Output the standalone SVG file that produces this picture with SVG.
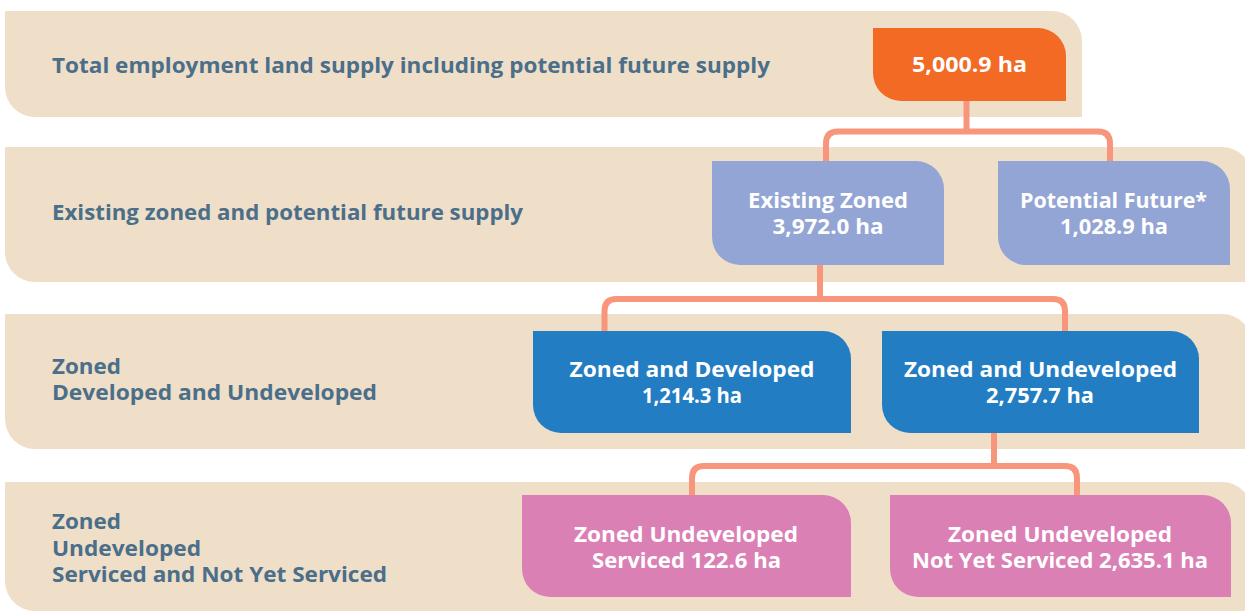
<svg xmlns="http://www.w3.org/2000/svg" width="1245" height="612" viewBox="0 0 1245 612">
<style>
.band{fill:#EFDFC9}
.lbl{font-family:"Open Sans","Liberation Sans",sans-serif;font-weight:700;font-size:21px;fill:#4B6E89}
.nt{font-family:"Open Sans","Liberation Sans",sans-serif;font-weight:700;font-size:21px;fill:#FFFFFF;text-anchor:middle}
.conn{fill:none;stroke:#F7967A;stroke-width:6}
.orange{fill:#F26A24}
.lav{fill:#93A5D5}
.blue{fill:#237DC2}
.pink{fill:#DB80B5}
</style>
<rect width="1245" height="612" fill="#FFFFFF"/>
<g id="bands">
<path class="band" d="M5 11 H1052 A30 30 0 0 1 1082 41 V117 H35 A30 30 0 0 1 5 87 Z"/>
<path class="band" d="M5 147 H1222 A30 30 0 0 1 1252 177 V282 H35 A30 30 0 0 1 5 252 Z"/>
<path class="band" d="M5 314 H1222 A30 30 0 0 1 1252 344 V449 H35 A30 30 0 0 1 5 419 Z"/>
<path class="band" d="M5 482 H1222 A30 30 0 0 1 1252 512 V611 H35 A30 30 0 0 1 5 581 Z"/>
</g>
<g id="row-labels">
<text class="lbl" x="52" y="73" textLength="718" lengthAdjust="spacingAndGlyphs">Total employment land supply including potential future supply</text>
<text class="lbl" x="52" y="220" textLength="471" lengthAdjust="spacingAndGlyphs">Existing zoned and potential future supply</text>
<text class="lbl" x="52" y="374" textLength="69" lengthAdjust="spacingAndGlyphs">Zoned</text>
<text class="lbl" x="52" y="400" textLength="325" lengthAdjust="spacingAndGlyphs">Developed and Undeveloped</text>
<text class="lbl" x="52" y="529" textLength="69" lengthAdjust="spacingAndGlyphs">Zoned</text>
<text class="lbl" x="52" y="556" textLength="149" lengthAdjust="spacingAndGlyphs">Undeveloped</text>
<text class="lbl" x="52" y="582" textLength="335" lengthAdjust="spacingAndGlyphs">Serviced and Not Yet Serviced</text>
</g>
<g id="connectors">
<path class="conn" d="M966.5 101 V131.5"/>
<path class="conn" d="M826 163 V143.5 Q826 131.5 838 131.5 H1098 Q1110 131.5 1110 143.5 V163"/>
<path class="conn" d="M820 265 V299"/>
<path class="conn" d="M604.5 333 V311 Q604.5 299 616.5 299 H1053 Q1065 299 1065 311 V333"/>
<path class="conn" d="M994 433 V466"/>
<path class="conn" d="M692 497 V478 Q692 466 704 466 H1065 Q1077 466 1077 478 V497"/>
</g>
<g id="node-total">
<path class="orange" d="M873 28 H1038 A28 28 0 0 1 1066 56 V101 H901 A28 28 0 0 1 873 73 Z"/>
<text class="nt" x="969.5" y="72" textLength="115" lengthAdjust="spacingAndGlyphs">5,000.9 ha</text>
</g>
<g id="node-existing">
<path class="lav" d="M712 161 H916 A28 28 0 0 1 944 189 V265 H740 A28 28 0 0 1 712 237 Z"/>
<text class="nt" x="828" y="208" textLength="160" lengthAdjust="spacingAndGlyphs">Existing Zoned</text>
<text class="nt" x="828" y="234" textLength="111" lengthAdjust="spacingAndGlyphs">3,972.0 ha</text>
</g>
<g id="node-potential">
<path class="lav" d="M998 161 H1202 A28 28 0 0 1 1230 189 V265 H1026 A28 28 0 0 1 998 237 Z"/>
<text class="nt" x="1113.5" y="208" textLength="187" lengthAdjust="spacingAndGlyphs">Potential Future*</text>
<text class="nt" x="1114" y="234" textLength="108" lengthAdjust="spacingAndGlyphs">1,028.9 ha</text>
</g>
<g id="node-developed">
<path class="blue" d="M533 331 H823 A28 28 0 0 1 851 359 V433 H561 A28 28 0 0 1 533 405 Z"/>
<text class="nt" x="692" y="377" textLength="245" lengthAdjust="spacingAndGlyphs">Zoned and Developed</text>
<text class="nt" x="692" y="403" textLength="100" lengthAdjust="spacingAndGlyphs">1,214.3 ha</text>
</g>
<g id="node-undeveloped">
<path class="blue" d="M882 331 H1171 A28 28 0 0 1 1199 359 V433 H910 A28 28 0 0 1 882 405 Z"/>
<text class="nt" x="1040.5" y="377" textLength="273" lengthAdjust="spacingAndGlyphs">Zoned and Undeveloped</text>
<text class="nt" x="1040" y="403" textLength="108" lengthAdjust="spacingAndGlyphs">2,757.7 ha</text>
</g>
<g id="node-serviced">
<path class="pink" d="M522 495 H823 A28 28 0 0 1 851 523 V597 H550 A28 28 0 0 1 522 569 Z"/>
<text class="nt" x="686" y="542" textLength="224" lengthAdjust="spacingAndGlyphs">Zoned Undeveloped</text>
<text class="nt" x="686.5" y="568" textLength="189" lengthAdjust="spacingAndGlyphs">Serviced 122.6 ha</text>
</g>
<g id="node-not-serviced">
<path class="pink" d="M890 495 H1203 A28 28 0 0 1 1231 523 V597 H918 A28 28 0 0 1 890 569 Z"/>
<text class="nt" x="1060" y="542" textLength="224" lengthAdjust="spacingAndGlyphs">Zoned Undeveloped</text>
<text class="nt" x="1060" y="568" textLength="296" lengthAdjust="spacingAndGlyphs">Not Yet Serviced 2,635.1 ha</text>
</g>
</svg>
